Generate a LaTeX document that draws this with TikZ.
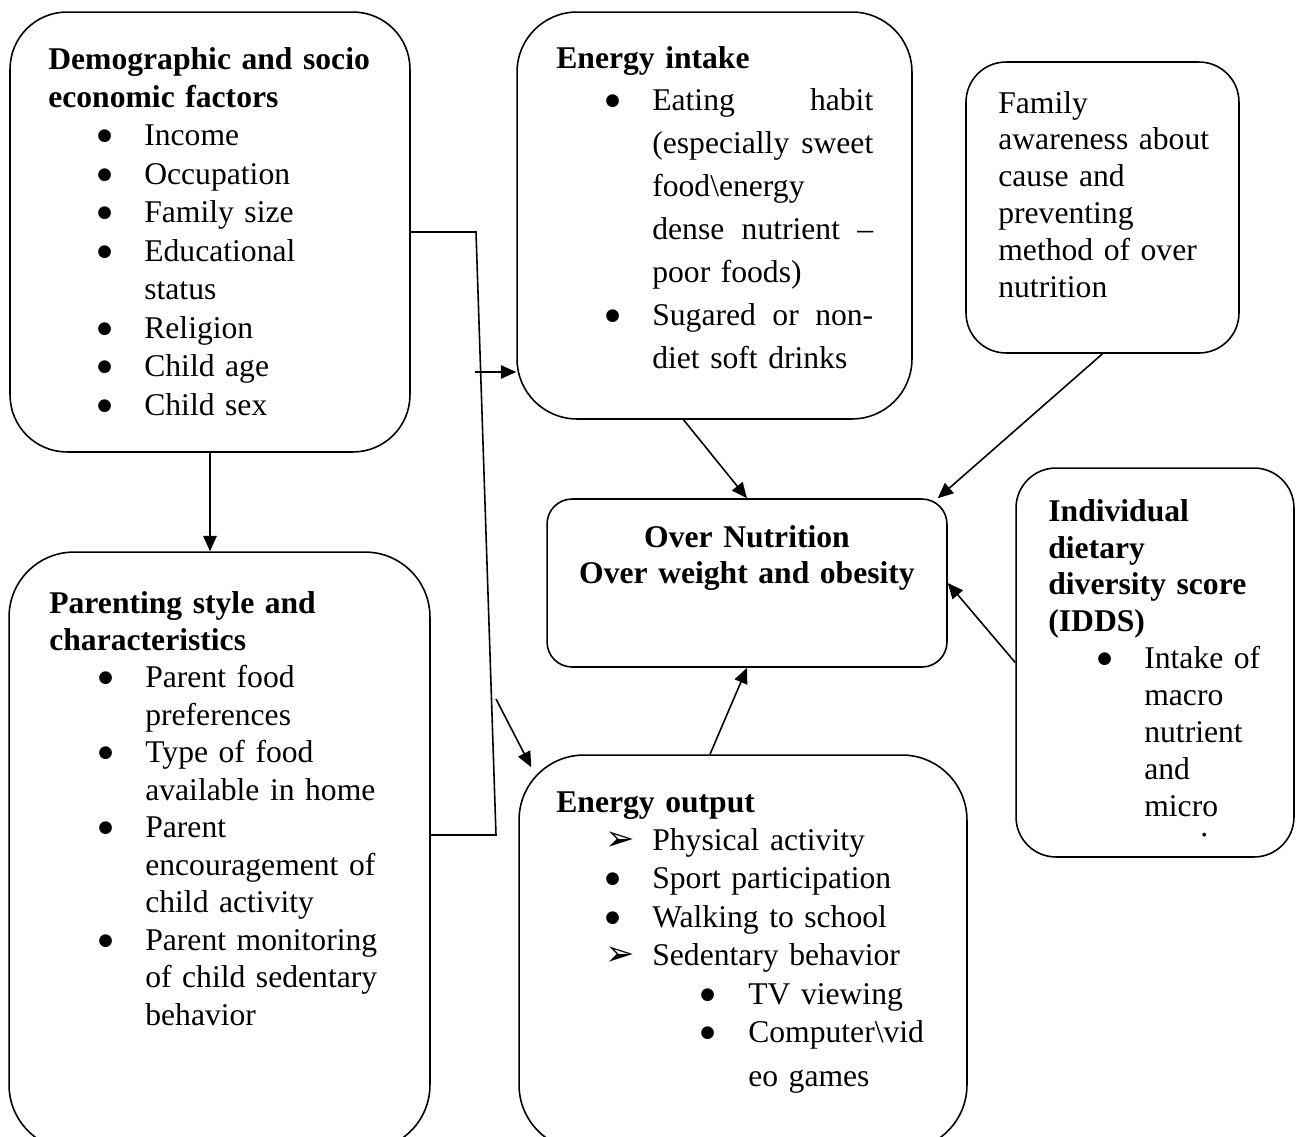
\documentclass[tikz,border=0pt]{standalone}
\usepackage{fontspec}
\setmainfont{Liberation Serif}
\newfontfamily\symfont{DejaVu Sans}
\usepackage{tikz}
\usetikzlibrary{arrows.meta,positioning,calc}

\newcommand{\blob}{\raisebox{3pt}{\symfont\fontsize{9.5}{0}\selectfont ●}}
\newcommand{\bitem}{\hspace*{0.98cm}\makebox[0.94cm][l]{\blob}}
\newcommand{\aitem}{\hspace*{0.98cm}\makebox[0.94cm][l]{\symfont\fontsize{20}{0}\selectfont ➢}}
\newcommand{\sbitem}{\hspace*{2.88cm}\makebox[0.96cm][l]{\blob}}
\newcommand{\contd}{\hspace*{1.92cm}}
\newcommand{\scontd}{\hspace*{3.84cm}}

\begin{document}
\begin{tikzpicture}[
    x=0.02cm, y=-0.02cm,
    box/.style={rectangle, draw=black, line width=0.9pt, inner sep=0pt},
    txt/.style={inner sep=0pt, anchor=base west, text width=8cm, align=left},
    arrow/.style={-{Triangle[length=0.31cm,width=0.27cm]}, line width=0.9pt},
    link/.style={line width=0.9pt}
]
\useasboundingbox (0,0) rectangle (1298,1136);

% Boxes
\node[box, minimum width=8cm, minimum height=8.8cm, rounded corners=1.14cm] (demo) at (210,232) {};
\node[box, minimum width=7.9cm, minimum height=8.14cm, rounded corners=1.2cm] (intake) at (714.5,215.5) {};
\node[box, minimum width=5.46cm, minimum height=5.82cm, rounded corners=0.8cm] (aware) at (1102.5,207.5) {};
\node[box, minimum width=8cm, minimum height=3.36cm, rounded corners=0.5cm] (over) at (747,583) {};
\node[box, minimum width=5.56cm, minimum height=7.78cm, rounded corners=0.8cm] (idds) at (1155,662.5) {};
\node[box, minimum width=8.42cm, minimum height=11.96cm, rounded corners=1.3cm] (parent) at (219.5,851) {};
\node[box, minimum width=8.96cm, minimum height=7.9cm, rounded corners=1.3cm] (output) at (743,952.5) {};

% Box texts
\node[txt, font=\fontsize{18}{0.77cm}\selectfont] (demotxt) at (48,69) {%
\textbf{Demographic and socio}\\
\textbf{economic factors}\\
\bitem Income\\
\bitem Occupation\\
\bitem Family size\\
\bitem Educational\\
\contd status\\
\bitem Religion\\
\bitem Child age\\
\bitem Child sex};

\node[txt, font=\fontsize{18}{0.86cm}\selectfont] (intaketxt) at (556,68) {%
\textbf{Energy intake}\\
\bitem\makebox[4.42cm][l]{Eating\hfill habit}\\
\contd\makebox[4.42cm][l]{(especially\hfill sweet}\\
\contd food\textbackslash energy\\
\contd\makebox[4.42cm][l]{dense\hfill nutrient\hfill –}\\
\contd poor foods)\\
\bitem\makebox[4.42cm][l]{Sugared\hfill or\hfill non-}\\
\contd diet soft drinks};

\node[txt, font=\fontsize{18}{0.74cm}\selectfont] (awaretxt) at (998,113) {%
Family\\
awareness about\\
cause and\\
preventing\\
method of over\\
nutrition};

\node[txt, anchor=base, align=center, font=\fontsize{18}{0.73cm}\selectfont\bfseries] (overtxt) at (747,547) {%
Over Nutrition\\
Over weight and obesity};

\node[txt, font=\fontsize{18}{0.74cm}\selectfont] (iddstxt) at (1048,521) {%
\textbf{Individual}\\
\textbf{dietary}\\
\textbf{diversity score}\\
\textbf{(IDDS)}\\
\bitem Intake of\\
\contd macro\\
\contd nutrient\\
\contd and\\
\contd micro\\[-0.34cm]
\hspace*{3.04cm}.};

\node[txt, font=\fontsize{18}{0.75cm}\selectfont] (parenttxt) at (49,613) {%
\textbf{Parenting style and}\\
\textbf{characteristics}\\
\bitem Parent food\\
\contd preferences\\
\bitem Type of food\\
\contd available in home\\
\bitem Parent\\
\contd encouragement of\\
\contd child activity\\
\bitem Parent monitoring\\
\contd of child sedentary\\
\contd behavior};

\node[txt, font=\fontsize{18}{0.77cm}\selectfont] (outputtxt) at (556,812) {%
\textbf{Energy output}\\
\aitem Physical activity\\
\bitem Sport participation\\
\bitem Walking to school\\
\aitem Sedentary behavior\\
\sbitem TV viewing\\
\sbitem Computer\textbackslash vid\\[0.1cm]
\scontd eo games};

% Connectors
\coordinate (bend1) at (476,232);
\coordinate (bend2) at (496,835);
\coordinate (tail1) at (475,372);
\coordinate (tail2) at (496,699);

\draw[arrow] (demo.south) -- (demo.south |- parent.north);
\draw[link] (demo.east) -- (bend1) -- (bend2) -- (bend2 -| parent.east);
\draw[arrow] (tail1) -- (tail1 -| intake.west);
\draw[arrow] (tail2) -- ([shift={(13,13)}]output.north west);
\draw[arrow] ([shift={(-31,0)}]intake.south) -- (over.north);
\draw[arrow] (aware.south) -- ([shift={(-10,0)}]over.north east);
\draw[arrow] (idds.west) -- (over.east);
\draw[arrow] ([shift={(-33,0)}]output.north) -- (over.south);

\end{tikzpicture}
\end{document}
